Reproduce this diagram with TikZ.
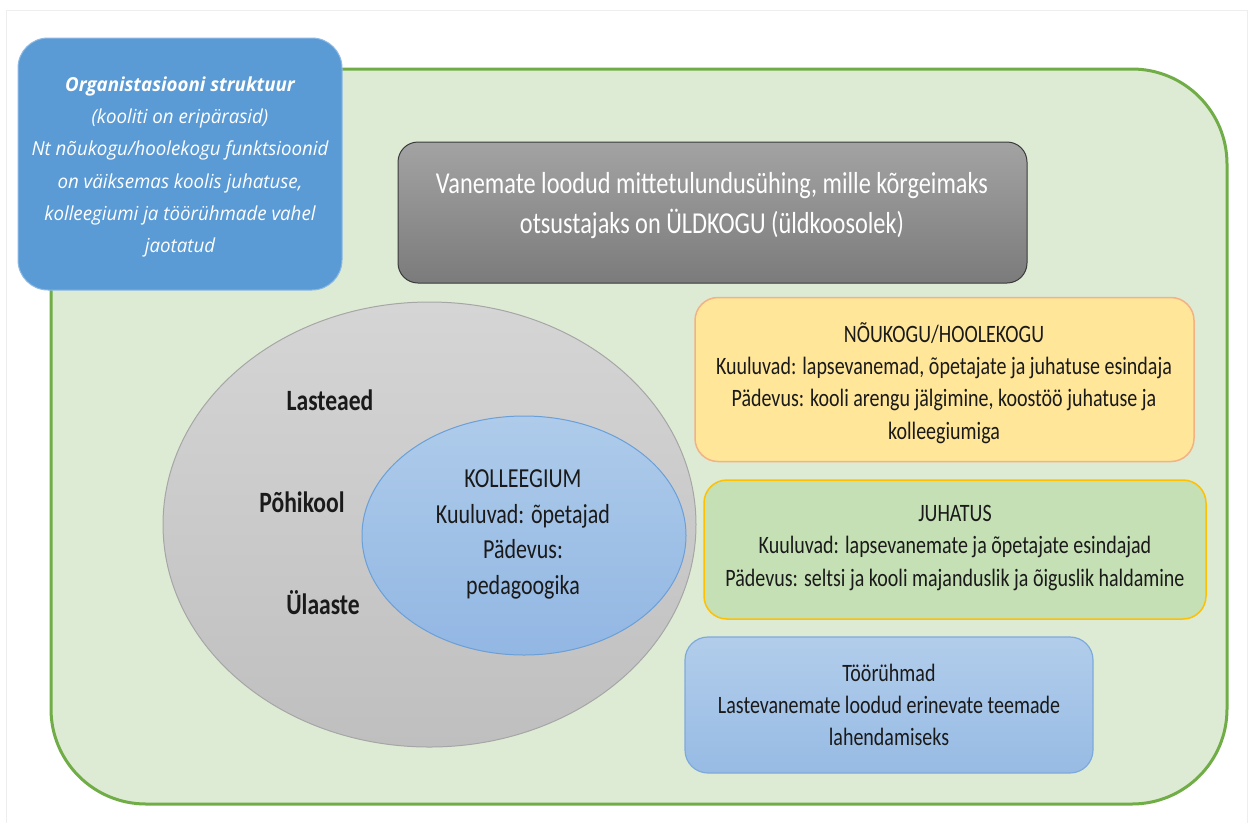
\documentclass[tikz,border=0pt]{standalone}
\usepackage{fontspec}
\setmainfont{Carlito}
\newfontfamily\cf{Carlito}[FakeStretch=0.8]
\newfontfamily\osf{Open Sans}[FakeStretch=0.97]
\usetikzlibrary{shapes.geometric}
\definecolor{framec}{HTML}{EEEEEE}
\definecolor{greenbg}{HTML}{DDEBD4}
\definecolor{greenline}{HTML}{70AD47}
\definecolor{bluebox}{HTML}{5B9BD5}
\definecolor{blueboxline}{HTML}{8DB9E3}
\definecolor{graytop}{HTML}{A3A3A3}
\definecolor{graybot}{HTML}{7B7B7B}
\definecolor{grayline}{HTML}{3A3A3A}
\definecolor{yellowfill}{HTML}{FFE699}
\definecolor{yellowline}{HTML}{F4B183}
\definecolor{jfill}{HTML}{C5E0B4}
\definecolor{jline}{HTML}{FFC000}
\definecolor{ttop}{HTML}{B2CDEB}
\definecolor{tbot}{HTML}{97BBE4}
\definecolor{tline}{HTML}{7EAADB}
\definecolor{elltop}{HTML}{D5D5D5}
\definecolor{ellbot}{HTML}{BFBFBF}
\definecolor{ellline}{HTML}{A6A6A6}
\definecolor{intop}{HTML}{AECBEA}
\definecolor{inbot}{HTML}{92B7E3}
\definecolor{inline}{HTML}{6A9FD8}
\definecolor{txt}{HTML}{1A1A1A}
\tikzset{
  shapebox/.style={rectangle, inner sep=0pt, outer sep=0pt},
  boxtext/.style={align=center, text=txt, inner sep=0pt, font=\cf\fontsize{25}{32.3}\selectfont},
  lvl/.style={inner sep=0pt, text=txt, font=\cf\bfseries\fontsize{29.5}{34}\selectfont}
}
\begin{document}
\begin{tikzpicture}[x=1pt,y=-1pt]
\useasboundingbox (0,0) rectangle (1250,823);
\fill[white] (0,0) rectangle (1250,823);
\coordinate (f1) at (6,823);
\coordinate (f2) at (6,10);
\coordinate (f3) at (1247,10);
\coordinate (f4) at (1247,823);
\draw[framec, line width=1pt] (f1) -- (f2) -- (f3) -- (f4);

% main green area
\node[shapebox, draw=greenline, fill=greenbg, line width=3pt, rounded corners=95pt,
      minimum width=1176pt, minimum height=735pt] (area) at (639,436.5) {};

% top-left blue box
\node[shapebox, draw=blueboxline, fill=bluebox, line width=1pt, rounded corners=30pt,
      minimum width=324pt, minimum height=252pt] (orgbox) at (180,164) {};
\node[align=center, text=white, inner sep=0pt, font=\osf\itshape\fontsize{19.3}{32.2}\selectfont]
  (orgtext) at (180,167)
  {{\bfseries Organistasiooni struktuur}\\(kooliti on eripärasid)\\Nt nõukogu/hoolekogu funktsioonid\\on väiksemas koolis juhatuse,\\kolleegiumi ja töörühmade vahel\\jaotatud};

% gray box
\node[shapebox, draw=grayline, top color=graytop, bottom color=graybot, line width=1pt,
      rounded corners=20pt, minimum width=629pt, minimum height=141pt] (ngo) at (712.5,212.5) {};
\node[align=center, text=white, inner sep=0pt, font=\cf\fontsize{30.4}{40}\selectfont]
  (ngotext) at (712,206)
  {Vanemate loodud mittetulundusühing, mille kõrgeimaks\\otsustajaks on ÜLDKOGU (üldkoosolek)};

% yellow box
\node[shapebox, draw=yellowline, fill=yellowfill, line width=1.5pt, rounded corners=23pt,
      minimum width=499pt, minimum height=164pt] (noukogu) at (944.5,379.5) {};
\node[boxtext] (noukogutext) at (944,383)
  {NÕUKOGU/HOOLEKOGU\\Kuuluvad: lapsevanemad, õpetajate ja juhatuse esindaja\\Pädevus: kooli arengu jälgimine, koostöö juhatuse ja\\kolleegiumiga};

% green box
\node[shapebox, draw=jline, fill=jfill, line width=1.5pt, rounded corners=23pt,
      minimum width=502pt, minimum height=139pt] (juhatus) at (955,549.5) {};
\node[boxtext] (juhatustext) at (955,548)
  {JUHATUS\\Kuuluvad: lapsevanemate ja õpetajate esindajad\\Pädevus: seltsi ja kooli majanduslik ja õiguslik haldamine};

% blue box
\node[shapebox, draw=tline, top color=ttop, bottom color=tbot, line width=1.2pt, rounded corners=23pt,
      minimum width=408pt, minimum height=136pt] (toor) at (889,705) {};
\node[boxtext] (toortext) at (889,705)
  {Töörühmad\\Lastevanemate loodud erinevate teemade\\lahendamiseks};

% ellipses
\node[ellipse, inner sep=0pt, outer sep=0pt, draw=ellline, line width=1pt, top color=elltop, bottom color=ellbot,
      minimum width=533pt, minimum height=445pt] (kool) at (429.5,524.5) {};
\node[ellipse, inner sep=0pt, outer sep=0pt, draw=inline, line width=1pt, top color=intop, bottom color=inbot,
      minimum width=324pt, minimum height=239pt] (kolleegium) at (524,535.5) {};
\node[align=center, text=txt, inner sep=0pt, font=\cf\fontsize{27.5}{35.7}\selectfont]
  (kolltext) at (523,534.5)
  {KOLLEEGIUM\\Kuuluvad: õpetajad\\Pädevus:\\pedagoogika};

\node[lvl] (lasteaed) at (330,400) {Lasteaed};
\node[lvl] (pohikool) at (302,502) {Põhikool};
\node[lvl] (ulaaste) at (323,603) {Ülaaste};
\end{tikzpicture}
\end{document}
